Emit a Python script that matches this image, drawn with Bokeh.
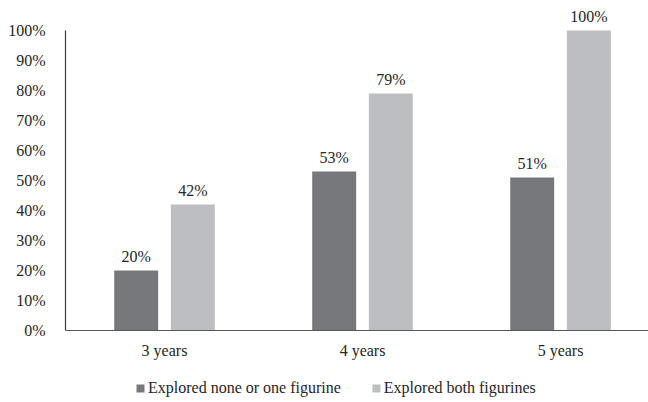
from bokeh.plotting import figure
from bokeh.models import Range1d, Legend, LegendItem, FixedTicker, ColumnDataSource, Span
from bokeh.core.properties import value
from bokeh.embed import file_html
from bokeh.resources import INLINE

categories = ["3 years", "4 years", "5 years"]
none_or_one = [20, 53, 51]
both = [42, 79, 100]
y_ticks = [0, 10, 20, 30, 40, 50, 60, 70, 80, 90, 100]
series_names = ["Explored none or one figurine", "Explored both figurines"]

FONT = "Liberation Serif"
FS = "16px"
TXT = "#262626"
DARK = "#77787b"
LIGHT = "#bdbec1"

centers = [i + 0.5 for i in range(len(categories))]
off = 0.143
bw = 0.222

p = figure(width=648, height=402, output_backend="svg", toolbar_location=None,
           x_range=Range1d(0, 2.9444), y_range=Range1d(-24, 110),
           x_axis_location=None,
           min_border_left=65, min_border_right=0, min_border_top=0, min_border_bottom=0)
p.outline_line_color = None
p.xgrid.visible = False
p.ygrid.visible = False

src1 = ColumnDataSource(dict(x=[c - off for c in centers], top=none_or_one,
                             lab=[f"{v}%" for v in none_or_one]))
src2 = ColumnDataSource(dict(x=[c + off for c in centers], top=both,
                             lab=[f"{v}%" for v in both]))

r1 = p.vbar(x="x", top="top", width=bw, source=src1, fill_color=DARK, line_color=None)
r2 = p.vbar(x="x", top="top", width=bw, source=src2, fill_color=LIGHT, line_color=None)

for s in (src1, src2):
    p.text(x="x", y="top", text="lab", source=s, text_align="center",
           text_baseline="alphabetic", y_offset=-14, text_font=value(FONT),
           text_font_size=FS, text_color=TXT)

# category axis (line + labels)
p.add_layout(Span(location=0, dimension="width", line_color="#595959", line_width=1.2))
cat_src = ColumnDataSource(dict(x=centers, y=[0] * len(centers), t=categories))
p.text(x="x", y="y", text="t", source=cat_src, text_align="center",
       text_baseline="alphabetic", y_offset=20, text_font=value(FONT),
       text_font_size=FS, text_color=TXT)

# y axis
ya = p.yaxis[0]
ya.ticker = FixedTicker(ticks=y_ticks)
ya.major_label_overrides = {t: f"{t}%" for t in y_ticks}
ya.bounds = (0, 100)
ya.major_tick_line_color = None
ya.minor_tick_line_color = None
ya.axis_line_color = "#3a3a3a"
ya.axis_line_width = 1.2
ya.major_label_standoff = 14
ya.major_label_text_font = FONT
ya.major_label_text_font_size = FS
ya.major_label_text_color = TXT

legend = Legend(items=[LegendItem(label=series_names[0], renderers=[r1]),
                       LegendItem(label=series_names[1], renderers=[r2])],
                orientation="horizontal", location=(70, 4),
                glyph_width=10, glyph_height=10, label_standoff=3, spacing=30,
                padding=0, margin=0, label_height=20,
                label_text_font=FONT, label_text_font_size=FS,
                label_text_color=TXT, border_line_color=None,
                background_fill_alpha=0)
p.add_layout(legend, "center")

open("out.html", "w").write(file_html(p, INLINE))
